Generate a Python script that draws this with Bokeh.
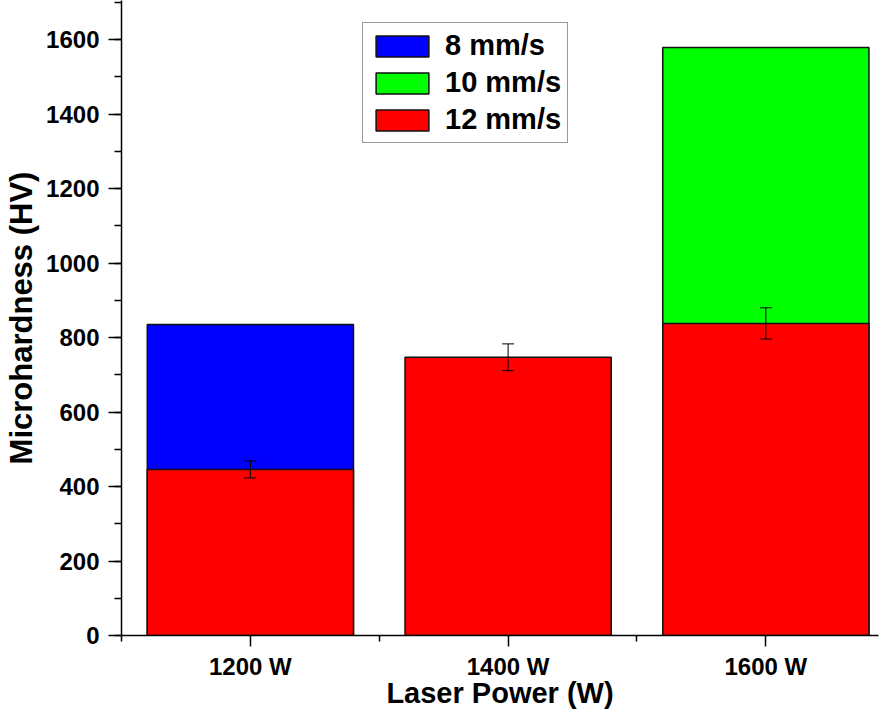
from bokeh.plotting import figure
from bokeh.models import (ColumnDataSource, Range1d, FixedTicker, SingleIntervalTicker,
                          Legend, LegendItem, Whisker, TeeHead)
from bokeh.embed import file_html
from bokeh.resources import INLINE

# ---- data ----
categories = ["1200 W", "1400 W", "1600 W"]
speed_8_cats = ["1200 W"]
speed_8_vals = [835]
speed_10_cats = ["1600 W"]
speed_10_vals = [1579]
speed_12_vals = [446, 747, 838]
speed_12_err = [23, 36, 42]
y_ticks_interval = 200
x_title = "Laser Power (W)"
y_title = "Microhardness (HV)"

pos = {c: i + 1 for i, c in enumerate(categories)}

FONT = "Liberation Sans"

p = figure(width=880, height=711, output_backend="svg", toolbar_location=None,
           x_range=Range1d(0.5, 3.437), y_range=Range1d(0, 1705),
           min_border_left=121, min_border_right=2, min_border_top=0, min_border_bottom=76)
p.outline_line_color = None
p.xgrid.visible = False
p.ygrid.visible = False

bw = 0.8
src8 = ColumnDataSource(dict(x=[pos[c] for c in speed_8_cats], top=speed_8_vals))
src10 = ColumnDataSource(dict(x=[pos[c] for c in speed_10_cats], top=speed_10_vals))
src12 = ColumnDataSource(dict(x=[pos[c] for c in categories], top=speed_12_vals,
                              upper=[v + e for v, e in zip(speed_12_vals, speed_12_err)],
                              lower=[v - e for v, e in zip(speed_12_vals, speed_12_err)]))

r8 = p.vbar(x="x", top="top", width=bw, source=src8, fill_color="#0000FF",
            line_color="#111111", line_width=1.5)
r10 = p.vbar(x="x", top="top", width=bw, source=src10, fill_color="#00FF00",
             line_color="#111111", line_width=1.5)
r12 = p.vbar(x="x", top="top", width=bw, source=src12, fill_color="#FF0000",
             line_color="#111111", line_width=1.5)

wh = Whisker(base="x", upper="upper", lower="lower", source=src12, level="annotation",
             line_color="black", line_width=1,
             upper_head=TeeHead(size=12, line_color="black", line_width=1),
             lower_head=TeeHead(size=12, line_color="black", line_width=1))
p.add_layout(wh)

# axes
xa = p.xaxis[0]
xa.ticker = FixedTicker(ticks=[pos[c] for c in categories],
                        minor_ticks=[0.5, 1.5, 2.5, 3.5])
xa.major_label_overrides = {pos[c]: c for c in categories}
xa.axis_label = x_title
ya = p.yaxis[0]
ya.ticker = SingleIntervalTicker(interval=y_ticks_interval, num_minor_ticks=2)
ya.axis_label = y_title

for ax in (xa, ya):
    ax.axis_line_width = 1.5
    ax.axis_line_color = "black"
    ax.major_tick_line_width = 1.5
    ax.minor_tick_line_width = 1.5
    ax.major_tick_line_color = "black"
    ax.minor_tick_line_color = "black"
    ax.major_tick_in = 0
    ax.minor_tick_in = 0
    ax.major_label_text_font = FONT
    ax.major_label_text_font_style = "bold"
    ax.major_label_text_font_size = "24px"
    ax.major_label_text_color = "black"
    ax.axis_label_text_font = FONT
    ax.axis_label_text_font_style = "bold"
    ax.axis_label_text_color = "black"

xa.axis_label_text_font_size = "29px"
ya.axis_label_text_font_size = "31px"

ya.major_tick_out = 13
ya.minor_tick_out = 7
ya.major_label_standoff = 9
ya.axis_label_standoff = 4
xa.major_tick_out = 11
xa.minor_tick_out = 6
xa.major_label_standoff = 6
xa.axis_label_standoff = -6

legend = Legend(items=[LegendItem(label="8 mm/s", renderers=[r8]),
                       LegendItem(label="10 mm/s", renderers=[r10]),
                       LegendItem(label="12 mm/s", renderers=[r12])],
                location=(241, 492))
legend.label_text_font = FONT
legend.label_text_font_style = "bold"
legend.label_text_font_size = "29px"
legend.label_text_color = "black"
legend.glyph_width = 66
legend.glyph_height = 26
legend.label_height = 26
legend.spacing = 4
legend.padding = 6
legend.margin = 0
legend.label_standoff = 10
legend.border_line_color = "#333333"
legend.border_line_width = 1.5
legend.background_fill_alpha = 1
p.add_layout(legend)

open("out.html", "w").write(file_html(p, INLINE))
